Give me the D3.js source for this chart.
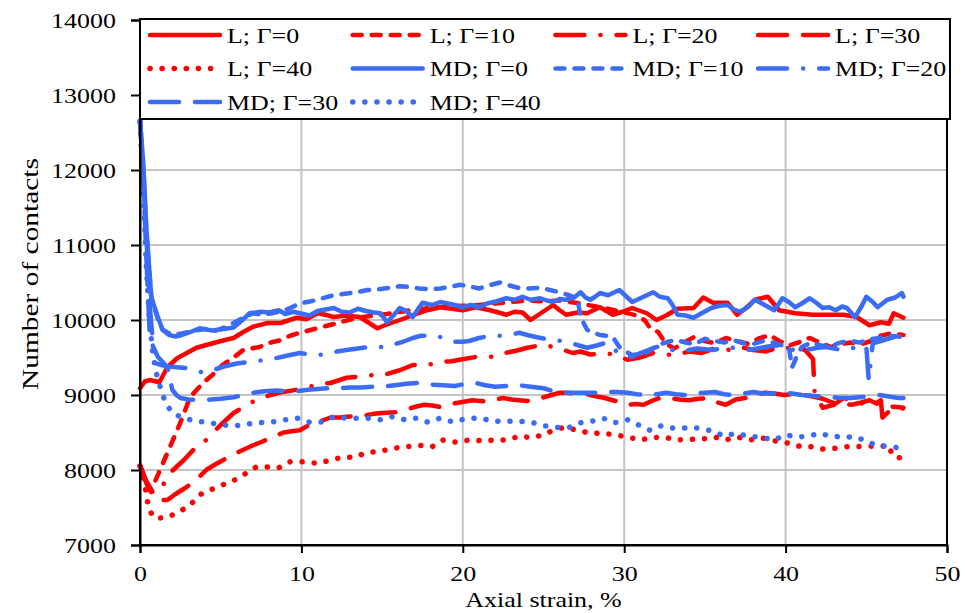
<!DOCTYPE html>
<html>
<head>
<meta charset="utf-8">
<script src="https://cdn.jsdelivr.net/npm/d3@7"></script>
<style>
  html, body { margin: 0; padding: 0; background: #fff; }
  svg { display: block; }
  text { font-family: "Liberation Serif", "Times New Roman", Times, serif; fill: #000; }
</style>
</head>
<body>
<svg id="chart" width="965" height="613"></svg>
<script>
// Axis ticks
const strainTicks = [0, 10, 20, 30, 40, 50];
const contactTicks = [7000, 8000, 9000, 10000, 11000, 12000, 13000, 14000];

// Legend labels (same order as the series below)
const seriesNames = ["L; Γ=0", "L; Γ=10", "L; Γ=20", "L; Γ=30", "L; Γ=40",
                     "MD; Γ=0", "MD; Γ=10", "MD; Γ=20", "MD; Γ=30", "MD; Γ=40"];

// Number of contacts vs axial strain (%), [strain, contacts]
const L0 = [[0,9090],[0.3,9180],[0.6,9200],[1.2,9170],[1.7,9370],[2.3,9490],[2.9,9560],[3.5,9630],[4.5,9690],[5.2,9730],[5.8,9760],[6.4,9840],[7,9910],[7.9,9960],[8.7,9960],[9.7,10030],[10.3,10010],[11,10090],[11.5,10070],[12,10040],[12.8,10060],[13.6,10040],[14.2,9960],[14.7,9890],[15.3,9940],[16.1,10000],[17,10070],[17.8,10130],[18.6,10170],[19.3,10150],[20,10130],[20.8,10170],[21.7,10130],[22.7,10070],[23.2,10110],[23.7,10100],[24.2,10000],[24.9,10100],[25.6,10200],[26,10130],[26.4,10070],[27.1,10100],[27.7,10090],[28.5,10170],[29.3,10070],[29.9,10110],[30.5,10160],[31.4,10090],[32,10000],[32.6,10060],[33.3,10150],[34.3,10160],[34.9,10300],[35.5,10230],[36.4,10230],[37,10070],[37.5,10150],[38.1,10270],[38.9,10310],[39.6,10130],[40.6,10090],[41.7,10070],[42.8,10070],[43.6,10070],[44.4,10040],[45.2,9930],[45.9,9970],[46.4,9950],[46.7,10090],[47.3,10030]];

const L10 = [[0,8060],[0.3,7900],[0.6,7730],[0.9,7830],[1.3,8030],[1.7,8230],[2.1,8430],[2.5,8630],[3.1,8970],[3.9,9160],[4.5,9270],[5.1,9400],[5.8,9500],[6.4,9600],[7.4,9640],[8.1,9700],[8.7,9730],[9.3,9790],[9.9,9830],[11,9890],[11.7,9930],[12.4,9970],[13.1,10010],[13.8,10040],[14.5,10060],[15.3,10080],[16.2,10110],[17,10140],[18,10160],[19,10180],[20,10190],[21,10200],[22,10220],[23,10240],[24,10260],[25,10250],[26,10260],[27,10230],[28,10190],[29,10150],[30,10100],[30.8,10060],[31.3,9990],[31.6,9890],[32.1,9840],[32.6,9680],[33.1,9620],[33.7,9700],[34.3,9770],[35,9720],[35.6,9690],[36.3,9760],[37,9720],[37.7,9680],[38.3,9750],[39,9800],[39.6,9720],[40.2,9660],[40.8,9700],[41.5,9760],[42.1,9700],[42.8,9640],[43.4,9680],[44,9700],[44.7,9680],[45.3,9720],[45.9,9790],[46.5,9820],[47.3,9800]];

const L20 = [[0,8060],[0.4,7850],[0.8,7700],[1.2,7720],[1.9,7970],[2.7,8130],[3.4,8290],[4.1,8400],[4.9,8580],[5.8,8760],[6.7,8880],[7.6,8970],[8.6,9030],[9.7,9070],[10.5,9110],[11.2,9150],[11.8,9160],[12.8,9230],[13.8,9250],[14.6,9270],[15.3,9280],[16.1,9330],[16.9,9400],[17.8,9400],[18.6,9440],[19.3,9450],[19.8,9470],[20.9,9510],[21.9,9510],[22.6,9560],[23.3,9590],[24,9630],[25,9670],[26,9620],[26.8,9560],[27.3,9580],[27.9,9540],[28.9,9560],[29.6,9520],[30.2,9470],[31,9500],[31.8,9560],[32.6,9540],[33.2,9530],[34,9580],[34.8,9560],[35.6,9620],[36.4,9600],[37.2,9640],[38,9600],[38.8,9580],[39.6,9640],[40.4,9620],[41.2,9600],[41.7,9480],[41.8,9030],[42.3,8830],[43,8870],[43.6,8960],[44.3,8900],[45,8880],[45.6,8890],[45.9,8930],[46,8700],[46.4,8780],[46.9,8830],[47.3,8820]];

const L30 = [[0,8060],[0.4,7820],[0.9,7630],[1.3,7600],[1.7,7600],[2.2,7680],[2.8,7760],[3.5,7870],[4.1,8000],[4.7,8080],[5.3,8150],[6,8230],[6.6,8290],[7,8330],[7.6,8380],[8.2,8440],[8.9,8500],[9.5,8520],[9.9,8530],[10.4,8590],[10.8,8620],[11.3,8660],[11.8,8700],[12.4,8700],[12.8,8710],[13.5,8720],[14,8730],[14.5,8750],[15,8760],[15.8,8770],[16.4,8800],[17,8840],[17.6,8870],[18.1,8860],[18.6,8840],[19.2,8880],[19.8,8900],[20.6,8930],[21.1,8920],[21.5,8910],[22,8940],[22.5,8960],[23,8940],[23.5,8930],[24.1,8920],[24.6,8940],[25,8970],[25.5,9000],[26,9030],[26.4,9030],[27,9020],[27.4,9030],[27.9,9000],[28.3,8980],[28.8,8960],[29.3,8930],[29.8,8900],[30.2,8870],[30.7,8880],[31.2,8870],[31.7,8920],[32.2,8960],[32.8,8960],[33.4,8940],[34,8930],[34.6,8950],[35.2,8960],[35.8,8900],[36.3,8870],[36.9,8940],[37.5,8960],[38.1,9000],[38.7,9030],[39.3,9020],[39.9,9000],[40.5,9010],[41.1,9000],[41.7,8980],[42.3,8950],[42.9,8900],[43.5,8880],[44.1,8870],[44.7,8900],[45.2,8930],[45.8,8870],[46.3,8850],[46.9,8840],[47.3,8830]];

const L40 = [[0,8050],[0.3,7800],[0.5,7530],[0.8,7370],[1.2,7360],[1.7,7370],[2.4,7440],[3.1,7530],[3.7,7670],[4.3,7730],[5.1,7800],[5.9,7870],[6.6,7960],[7.2,8040],[7.9,8040],[8.6,8030],[9.3,8110],[10,8110],[11,8090],[11.8,8130],[12.5,8170],[13.3,8170],[14,8230],[14.9,8250],[15.7,8290],[16.5,8310],[17.3,8330],[18.1,8310],[18.8,8400],[19.6,8370],[20.4,8400],[21.2,8390],[22,8400],[22.7,8400],[23.5,8450],[24.3,8430],[25,8470],[25.6,8530],[26.3,8570],[27.1,8530],[27.9,8490],[28.6,8490],[29.4,8470],[30.2,8440],[31,8400],[31.7,8430],[32.4,8440],[33.3,8400],[34,8410],[34.8,8410],[35.6,8440],[36.3,8400],[37,8440],[37.8,8400],[38.5,8430],[39.3,8390],[40.1,8360],[40.8,8320],[41.6,8310],[42.3,8280],[43.1,8290],[43.8,8310],[44.4,8310],[45.1,8320],[45.8,8310],[46.4,8330],[46.6,8200],[46.9,8160],[47.3,8170]];

const MD0 = [[0,12650],[0.2,12100],[0.4,11200],[0.7,10300],[1.1,10040],[1.4,9870],[1.8,9800],[2.2,9780],[2.6,9800],[3,9830],[3.7,9890],[4.2,9870],[4.5,9860],[5.2,9880],[5.8,9900],[6.3,9990],[6.8,10090],[7.5,10110],[8,10100],[8.6,10130],[9,10080],[9.5,10110],[9.9,10090],[10.5,10060],[11,10120],[12,10160],[12.5,10110],[13,10100],[13.5,10150],[14,10120],[14.5,10100],[14.9,10090],[15.3,9970],[15.7,10060],[16.1,10160],[16.5,10120],[16.9,10040],[17.5,10230],[18.1,10200],[18.6,10240],[19.3,10210],[20,10170],[20.5,10200],[21,10170],[21.5,10220],[22.1,10250],[22.7,10290],[23.2,10270],[23.7,10310],[24.2,10270],[24.8,10290],[25.2,10260],[25.6,10240],[26,10280],[26.4,10270],[26.9,10300],[27.3,10370],[27.6,10300],[27.9,10270],[28.2,10310],[28.5,10360],[29,10330],[29.7,10400],[30.1,10320],[30.5,10240],[31,10290],[31.4,10330],[31.8,10370],[32.2,10310],[32.7,10290],[33,10200],[33.3,10070],[33.8,10060],[34.3,10030],[34.8,10090],[35.4,10160],[35.9,10190],[36.4,10200],[36.8,10140],[37.2,10110],[37.7,10180],[38.1,10270],[38.7,10200],[39.3,10130],[39.8,10290],[40.2,10240],[40.6,10170],[41,10220],[41.5,10290],[41.9,10230],[42.3,10160],[42.7,10170],[43.1,10130],[43.5,10180],[43.8,10160],[44.3,10040],[44.7,10180],[45,10310],[45.4,10240],[45.7,10170],[46,10220],[46.3,10270],[46.8,10300],[47.2,10360],[47.3,10310]];

const MD10 = [[0,12650],[0.2,12000],[0.4,11150],[0.7,10300],[1.1,10020],[1.4,9870],[2,9800],[2.6,9820],[3.2,9850],[4,9880],[4.6,9850],[5.2,9900],[5.8,9960],[6.4,10030],[7,10090],[7.6,10070],[8.2,10090],[8.8,10120],[9.3,10160],[9.9,10220],[10.6,10250],[11.3,10290],[12,10330],[12.7,10350],[13.4,10370],[14.1,10400],[14.8,10410],[15.5,10430],[16.1,10450],[16.7,10440],[17.3,10420],[18,10410],[18.6,10420],[19.2,10440],[19.8,10470],[20.4,10450],[21,10420],[21.6,10460],[22.3,10500],[22.9,10460],[23.4,10430],[24.1,10420],[24.8,10430],[25.4,10400],[26,10370],[26.6,10330],[27.1,10290],[27.3,10040],[27.7,9870],[28.1,9830],[28.5,9800],[28.9,9790],[29.3,9770],[29.7,9640],[30.1,9580],[30.5,9530],[31,9550],[31.4,9570],[31.9,9640],[32.4,9690],[32.9,9720],[33.3,9730],[33.8,9700],[34.4,9680],[35,9750],[35.6,9720],[36.2,9700],[36.8,9730],[37.4,9690],[38,9680],[38.6,9720],[39.2,9700],[39.8,9660],[40.2,9640],[40.4,9370],[40.7,9520],[41,9640],[41.6,9700],[42.2,9660],[42.8,9650],[43.4,9700],[44,9720],[44.6,9700],[45.2,9740],[45.8,9760],[46.4,9790],[47,9780],[47.3,9770]];

const MD20 = [[0,12650],[0.2,12000],[0.4,11100],[0.6,10200],[0.8,9700],[0.9,9430],[1.3,9400],[1.8,9380],[2.3,9370],[2.9,9360],[3.5,9320],[3.9,9300],[4.5,9330],[5.2,9380],[6,9420],[6.8,9440],[7.5,9460],[8.2,9480],[9,9520],[9.9,9560],[10.5,9540],[11,9530],[11.6,9550],[12.2,9580],[12.8,9600],[13.5,9620],[14.2,9640],[15.3,9640],[15.8,9680],[16.3,9710],[16.9,9760],[17.4,9790],[18,9790],[18.4,9790],[19,9740],[19.4,9710],[20,9710],[20.4,9720],[21,9760],[21.5,9780],[22,9790],[22.5,9790],[23.1,9810],[23.5,9830],[24,9800],[24.6,9770],[25.1,9750],[25.6,9730],[26.1,9720],[26.6,9700],[27.2,9660],[27.7,9630],[28.3,9660],[28.9,9700],[29.3,9640],[29.6,9560],[30,9520],[30.5,9510],[31,9560],[31.5,9600],[32,9640],[32.5,9650],[33,9600],[33.5,9580],[34,9600],[34.5,9620],[35,9610],[35.5,9600],[36,9620],[36.5,9640],[37,9620],[37.5,9600],[38,9610],[38.5,9630],[39,9650],[39.5,9660],[40,9630],[40.5,9600],[41,9600],[41.5,9610],[42,9630],[42.5,9640],[43,9620],[43.5,9600],[44,9620],[44.5,9640],[45,9650],[45.15,9200],[45.4,9690],[45.9,9720],[46.5,9760],[47,9790],[47.3,9780]];

const MD30 = [[0,12650],[0.2,11900],[0.4,10800],[0.6,9830],[0.8,9650],[1.1,9510],[1.4,9440],[1.7,9370],[2,9070],[2.3,8990],[2.5,8960],[3,8940],[3.7,8930],[4.4,8940],[5,8950],[5.8,8970],[6.4,9000],[7,9030],[7.7,9050],[8.5,9060],[9.1,9050],[9.7,9050],[10.4,9070],[11,9080],[11.6,9090],[12.3,9090],[13,9100],[13.7,9100],[14.4,9110],[15,9110],[15.8,9130],[16.5,9150],[17.2,9160],[18,9140],[18.8,9130],[19.5,9120],[20.2,9150],[20.8,9160],[21.4,9130],[22,9110],[22.7,9120],[23.5,9130],[24.2,9110],[25,9090],[25.6,9050],[26.1,9030],[26.6,9030],[27.2,9030],[27.8,9030],[28.4,9030],[29,9040],[29.6,9040],[30.2,9030],[30.8,9010],[31.4,9000],[32,9010],[32.6,9030],[33.2,9010],[33.8,9000],[34.4,9020],[35,9030],[35.6,9040],[36.2,9010],[36.8,9000],[37.4,9020],[38,9040],[38.6,9020],[39.2,9020],[39.8,9030],[40.4,9020],[41,9000],[41.6,8990],[42.2,8980],[42.8,8970],[43.4,8960],[44,8960],[44.6,8970],[45.2,8980],[45.8,9000],[46.4,8980],[47,8960],[47.3,8960]];

const MD40 = [[0,12650],[0.2,11800],[0.4,10700],[0.6,9950],[0.8,9550],[1,9300],[1.3,9070],[1.6,8890],[2,8760],[2.7,8690],[3.5,8650],[4.3,8630],[5.1,8600],[5.9,8590],[6.6,8610],[7.2,8630],[8.2,8640],[9,8670],[9.8,8690],[10.6,8630],[11.3,8640],[12,8710],[12.8,8690],[13.6,8690],[14.1,8690],[14.9,8670],[15.6,8710],[16.4,8670],[17.1,8690],[17.8,8640],[18.6,8690],[19.4,8640],[20.3,8690],[21.1,8690],[21.9,8650],[22.6,8650],[23.4,8650],[24.2,8640],[25,8590],[25.7,8570],[26.5,8560],[27.3,8630],[28,8650],[28.7,8690],[29.4,8630],[30.2,8670],[30.9,8600],[31.6,8530],[32.3,8590],[33,8560],[33.7,8560],[34.5,8560],[35.5,8520],[36.2,8450],[36.9,8490],[37.7,8450],[38.4,8440],[39.3,8400],[40,8470],[40.7,8440],[41.4,8450],[42.1,8490],[42.8,8450],[43.6,8440],[44.4,8440],[45.1,8370],[45.7,8330],[46.4,8310],[47.2,8290]];

const seriesData = [L0, L10, L20, L30, L40, MD0, MD10, MD20, MD30, MD40];

// ---- drawing ----
const RED = "#ff0000", BLUE = "#3b6cf6";
const LW = 4.5;
// dash pattern and width per Γ (round caps widen each dash by the line width)
const dashByGamma = [null, "9,10", "29,16,0.1,16", "29,16", "0.1,12"];
const widthByGamma = [LW, LW, LW, LW, 5.5];
const seriesStyle = seriesData.map((_, i) => ({
  color: i < 5 ? RED : BLUE,
  dash: dashByGamma[i % 5],
  width: widthByGamma[i % 5]
}));

const FONT = 22, SX = 1.18;   // serif text, slightly widened
const svg = d3.select("#chart");
const plot = { left: 140, right: 947, top: 20, bottom: 545 };

const x = d3.scaleLinear().domain([0, 50]).range([plot.left, plot.right]);
const y = d3.scaleLinear().domain([7000, 14000]).range([plot.bottom, plot.top]);

function widen(sel, target) {
  sel.each(function () {
    const len = target || this.getComputedTextLength() * SX;
    d3.select(this).attr("textLength", len).attr("lengthAdjust", "spacingAndGlyphs");
  });
}

// gridlines
svg.append("g")
  .selectAll("line")
  .data(contactTicks.filter(v => v > 7000 && v < 14000))
  .join("line")
  .attr("x1", plot.left).attr("x2", plot.right)
  .attr("y1", d => y(d)).attr("y2", d => y(d))
  .attr("stroke", "#c4c4c4").attr("stroke-width", 2);
svg.append("g")
  .selectAll("line")
  .data(strainTicks.filter(v => v > 0 && v < 50))
  .join("line")
  .attr("y1", plot.top).attr("y2", plot.bottom)
  .attr("x1", d => x(d)).attr("x2", d => x(d))
  .attr("stroke", "#c4c4c4").attr("stroke-width", 2);

// series
const line = d3.line().x(d => x(d[0])).y(d => y(d[1]));
svg.append("g")
  .selectAll("path")
  .data(seriesData)
  .join("path")
  .attr("d", line)
  .attr("fill", "none")
  .attr("stroke", (d, i) => seriesStyle[i].color)
  .attr("stroke-width", (d, i) => seriesStyle[i].width)
  .attr("stroke-linecap", "round")
  .attr("stroke-linejoin", "round")
  .attr("stroke-dasharray", (d, i) => seriesStyle[i].dash);

// plot frame
svg.append("rect")
  .attr("x", plot.left).attr("y", plot.top)
  .attr("width", plot.right - plot.left).attr("height", plot.bottom - plot.top)
  .attr("fill", "none").attr("stroke", "#000").attr("stroke-width", 2);

// axes
const xAxis = svg.append("g")
  .attr("transform", `translate(0,${plot.bottom})`)
  .call(d3.axisBottom(x).tickValues(strainTicks).tickFormat(d3.format("d")).tickSize(8).tickPadding(12));
const yAxis = svg.append("g")
  .attr("transform", `translate(${plot.left},0)`)
  .call(d3.axisLeft(y).tickValues(contactTicks).tickFormat(d3.format("d")).tickSize(9).tickPadding(15));
[xAxis, yAxis].forEach(g => {
  g.select(".domain").attr("stroke", "#000").attr("stroke-width", 2);
  g.selectAll(".tick line").attr("stroke", "#000").attr("stroke-width", 2);
  g.selectAll(".tick text")
    .attr("fill", "#000")
    .style("font-family", '"Liberation Serif", "Times New Roman", serif')
    .style("font-size", FONT + "px");
});
widen(xAxis.selectAll(".tick text"));
widen(yAxis.selectAll(".tick text"));

// axis titles
svg.append("text")
  .attr("x", (plot.left + plot.right) / 2).attr("y", 607)
  .attr("text-anchor", "middle")
  .style("font-size", FONT + "px")
  .text("Axial strain, %")
  .call(widen);
svg.append("text")
  .attr("transform", "translate(38,274) rotate(-90)")
  .attr("text-anchor", "middle")
  .style("font-size", "23px")
  .text("Number of contacts")
  .call(widen, 232);

// legend
const legend = svg.append("g").attr("transform", "translate(140,19)");
legend.append("rect")
  .attr("width", 810).attr("height", 100)
  .attr("fill", "#fff").attr("stroke", "#000").attr("stroke-width", 2);
const item = legend.selectAll("g")
  .data(seriesNames)
  .join("g")
  .attr("transform", (d, i) => `translate(${10 + (i % 4) * 202.7},${16 + Math.floor(i / 4) * 33.5})`);
item.append("line")
  .attr("x1", 0).attr("x2", 70).attr("y1", 0).attr("y2", 0)
  .attr("stroke", (d, i) => seriesStyle[i].color)
  .attr("stroke-width", (d, i) => seriesStyle[i].width)
  .attr("stroke-linecap", "round")
  .attr("stroke-dasharray", (d, i) => seriesStyle[i].dash);
item.append("text")
  .attr("x", 77).attr("y", 0).attr("dy", "0.35em")
  .style("font-size", FONT + "px")
  .text(d => d)
  .call(widen);
</script>
</body>
</html>
